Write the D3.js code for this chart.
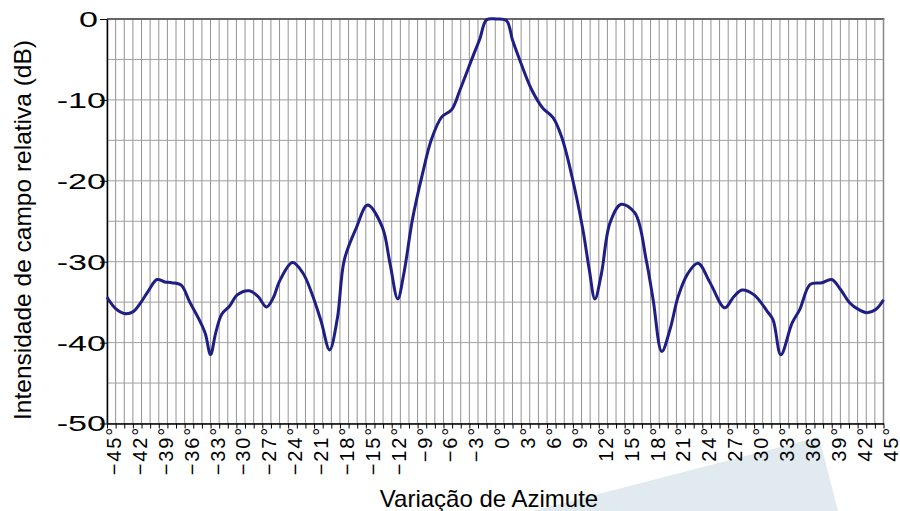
<!DOCTYPE html>
<html>
<head>
<meta charset="utf-8">
<script src="https://cdn.jsdelivr.net/npm/d3@7"></script>
<style>
  body { margin: 0; background: #fff; }
  svg { display: block; font-family: "Liberation Sans", Arial, sans-serif; }
</style>
</head>
<body>
<svg id="chart" width="900" height="511"></svg>
<script>
// azimuth (degrees) and relative field level (dB)
var azimuth = [-45, -44, -43, -42, -41.25, -40.2, -39.2, -38.3, -37.5, -36.4,
  -35.45, -34.3, -33.6, -33.0, -32.4, -31.7, -30.8, -29.9, -28.5, -27.5,
  -26.5, -25.7, -25.0, -23.5, -22.3, -21.3, -20.2, -19.2, -18.3, -17.5,
  -16.1, -14.8, -13.1, -12.2, -11.3, -10.6, -9.6, -8.4, -7.4, -6.2,
  -5.05, -4.1, -2.6, -1.8, -1.0, 0.1, 1.3, 2.0, 2.85, 3.6,
  4.25, 5.5, 6.7, 7.7, 8.9, 10.15, 10.9, 11.55, 12.3, 13.3,
  14.6, 16.2, 17.5, 18.3, 19.3, 20.25, 21.2, 22.3, 23.5, 24.9,
  26.6, 27.6, 28.6, 30.0, 31.5, 32.2, 33.1, 34.4, 35.3, 36.5,
  37.85, 39.0, 40.0, 41.1, 42.1, 43.1, 44.1, 45];
var level = [-34.4, -35.8, -36.4, -36.2, -35.3, -33.6, -32.2, -32.5, -32.6, -32.9,
  -34.9, -37.2, -38.9, -41.5, -38.8, -36.5, -35.5, -34.1, -33.6, -34.3,
  -35.6, -34.4, -32.4, -30.1, -31.4, -33.8, -37.3, -40.9, -37.0, -29.8,
  -25.8, -23.0, -25.7, -30.2, -34.6, -31.5, -24.8, -19.0, -14.9, -12.1,
  -11.2, -8.8, -4.65, -2.5, -0.1, 0, -0.2, -2.6, -5.1, -7.2,
  -8.8, -11.0, -12.2, -14.6, -19.5, -26.0, -31.0, -34.6, -31.5, -25.2,
  -22.9, -24.0, -29.8, -34.7, -41.1, -38.4, -34.3, -31.5, -30.2, -32.6,
  -35.7, -34.4, -33.5, -34.1, -36.1, -37.2, -41.5, -37.6, -35.9, -32.8,
  -32.6, -32.2, -33.4, -35.1, -35.9, -36.3, -35.9, -34.7];

var xTickLabels = d3.range(-45, 46, 3);      // labelled every 3 degrees
var xGrid = d3.range(-45, 46, 1);            // grid every degree
var yTickLabels = [0, -10, -20, -30, -40, -50];
var yGrid = d3.range(-50, 1, 5);

var svg = d3.select("#chart");

var x = d3.scaleLinear().domain([-45, 45]).range([107, 883.5]);
var y = d3.scaleLinear().domain([-50, 0]).range([423.5, 19]);

// light decorative wedge behind the x labels
svg.append("polygon")
  .attr("points", "533,511 819,437 838,511")
  .style("fill", "#e1eaee");

// grid
svg.append("g").selectAll("line").data(xGrid).enter().append("line")
  .attr("x1", function (d) { return x(d); })
  .attr("x2", function (d) { return x(d); })
  .attr("y1", y(0)).attr("y2", y(-50))
  .style("stroke", "#939393").style("stroke-width", 1);

svg.append("g").selectAll("line").data(yGrid).enter().append("line")
  .attr("x1", x(-45)).attr("x2", x(45))
  .attr("y1", function (d) { return y(d); })
  .attr("y2", function (d) { return y(d); })
  .style("stroke", "#a0a0a0").style("stroke-width", 1);

// frame: top and right
svg.append("line").attr("x1", x(-45)).attr("x2", x(45) + 1).attr("y1", y(0)).attr("y2", y(0))
  .style("stroke", "#444").style("stroke-width", 1.5);
svg.append("line").attr("x1", x(45)).attr("x2", x(45)).attr("y1", y(0)).attr("y2", y(-50))
  .style("stroke", "#888").style("stroke-width", 1.5);

// x axis (ticks every degree, labels drawn below)
var xAxis = d3.axisBottom(x).tickValues(xGrid).tickSize(5).tickSizeOuter(0).tickFormat("");
var gx = svg.append("g").attr("transform", "translate(0," + y(-50) + ")").call(xAxis);
gx.select(".domain").style("stroke", "#000").style("stroke-width", 1.5);
gx.selectAll(".tick line").style("stroke", "#000");

svg.append("g").selectAll("text").data(xTickLabels).enter().append("text")
  .attr("transform", function (d) { return "translate(" + (x(d) + 14) + ",426) rotate(-90)"; })
  .style("text-anchor", "end")
  .style("font-size", "20px")
  .style("letter-spacing", "1.8px")
  .style("fill", "#000")
  .text(function (d) { return (d < 0 ? "\u2212" + (-d) : d) + "\u00b0"; });

// y axis
var yAxis = d3.axisLeft(y).tickValues(yTickLabels).tickSize(7).tickSizeOuter(0).tickFormat("");
var gy = svg.append("g").attr("transform", "translate(" + x(-45) + ",0)").call(yAxis);
gy.select(".domain").style("stroke", "#000").style("stroke-width", 1.5);
gy.selectAll(".tick line").style("stroke", "#000");

svg.append("g").selectAll("text").data(yTickLabels).enter().append("text")
  .attr("transform", function (d) { return "translate(" + (d === 0 ? 98 : 106) + "," + y(d) + ") scale(1.55,1)"; })
  .attr("dy", "0.36em")
  .style("text-anchor", "end")
  .style("font-size", "22px")
  .style("fill", "#000")
  .text(function (d) { return d; });

// the curve
var line = d3.line()
  .x(function (d, i) { return x(azimuth[i]); })
  .y(function (d) { return y(d); })
  .curve(d3.curveCatmullRom.alpha(0.5));

svg.append("path")
  .datum(level)
  .attr("d", line)
  .style("fill", "none")
  .style("stroke", "#1e1e84")
  .style("stroke-width", 3)
  .style("stroke-linejoin", "round");

// axis titles
svg.append("text")
  .attr("transform", "translate(30.5,230) rotate(-90)")
  .style("text-anchor", "middle")
  .style("font-size", "24.5px")
  .style("fill", "#000")
  .text("Intensidade de campo relativa (dB)");

svg.append("text")
  .attr("x", 489).attr("y", 507)
  .style("text-anchor", "middle")
  .style("font-size", "24px")
  .style("fill", "#000")
  .text("Variação de Azimute");
</script>
</body>
</html>
